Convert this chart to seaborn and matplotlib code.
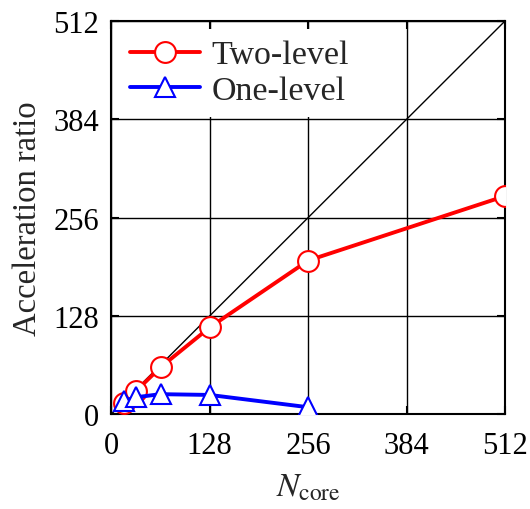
import matplotlib
matplotlib.use("Agg")
import matplotlib.pyplot as plt
import seaborn as sns
import pandas as pd

# Core counts and measured acceleration ratios
cores_two = [16, 32, 64, 128, 256, 512]
ratio_two = [15, 30, 61, 113, 200, 284]
cores_one = [16, 32, 64, 128, 256]
ratio_one = [17, 22, 26, 25, 9]
ticks = [0, 128, 256, 384, 512]

sns.set_theme(style="white")
plt.rcParams["font.family"] = ["Liberation Serif", "DejaVu Serif"]
plt.rcParams["mathtext.fontset"] = "stix"

df_two = pd.DataFrame({"N": cores_two, "ratio": ratio_two})
df_one = pd.DataFrame({"N": cores_one, "ratio": ratio_one})

fig = plt.figure(figsize=(5.3, 5.1), dpi=100)
ax = fig.add_axes([0.21, 0.186, 0.743, 0.771])

# Ideal linear speedup
ax.plot([0, 512], [0, 512], color="black", lw=1.0, zorder=2)

sns.lineplot(data=df_two, x="N", y="ratio", ax=ax, color="red", lw=2.8,
             marker="o", markersize=15, markerfacecolor="white",
             markeredgecolor="red", markeredgewidth=1.5,
             label="Two-level", zorder=4)
sns.lineplot(data=df_one, x="N", y="ratio", ax=ax, color="blue", lw=2.8,
             marker="^", markersize=15, markerfacecolor="white",
             markeredgecolor="blue", markeredgewidth=1.5,
             label="One-level", zorder=5)

ax.set_xlim(0, 512)
ax.set_ylim(0, 512)
ax.set_xticks(ticks)
ax.set_yticks(ticks)
ax.grid(True, color="black", lw=1.0)
ax.set_axisbelow(True)
for s in ax.spines.values():
    s.set_color("black")
    s.set_linewidth(1.5)
ax.tick_params(direction="in", length=6, width=1.5, labelsize=22,
               colors="black", top=True, right=True,
               bottom=True, left=True, labeltop=False, labelright=False)
ax.tick_params(axis="x", pad=12)
ax.tick_params(axis="y", pad=9)

ax.set_xlabel(r"$N_{\mathrm{core}}$", fontsize=24, labelpad=9)
ax.set_ylabel("Acceleration ratio", fontsize=23.5, labelpad=7)

leg = ax.legend(loc="upper left", fontsize=24.5, frameon=True,
                handlelength=2.05, borderaxespad=0.25, handletextpad=0.35,
                labelspacing=0.15, borderpad=0.3)
leg.get_frame().set_edgecolor("none")
leg.get_frame().set_facecolor("white")
leg.get_frame().set_alpha(1.0)

fig.savefig("out.png", dpi=100)
